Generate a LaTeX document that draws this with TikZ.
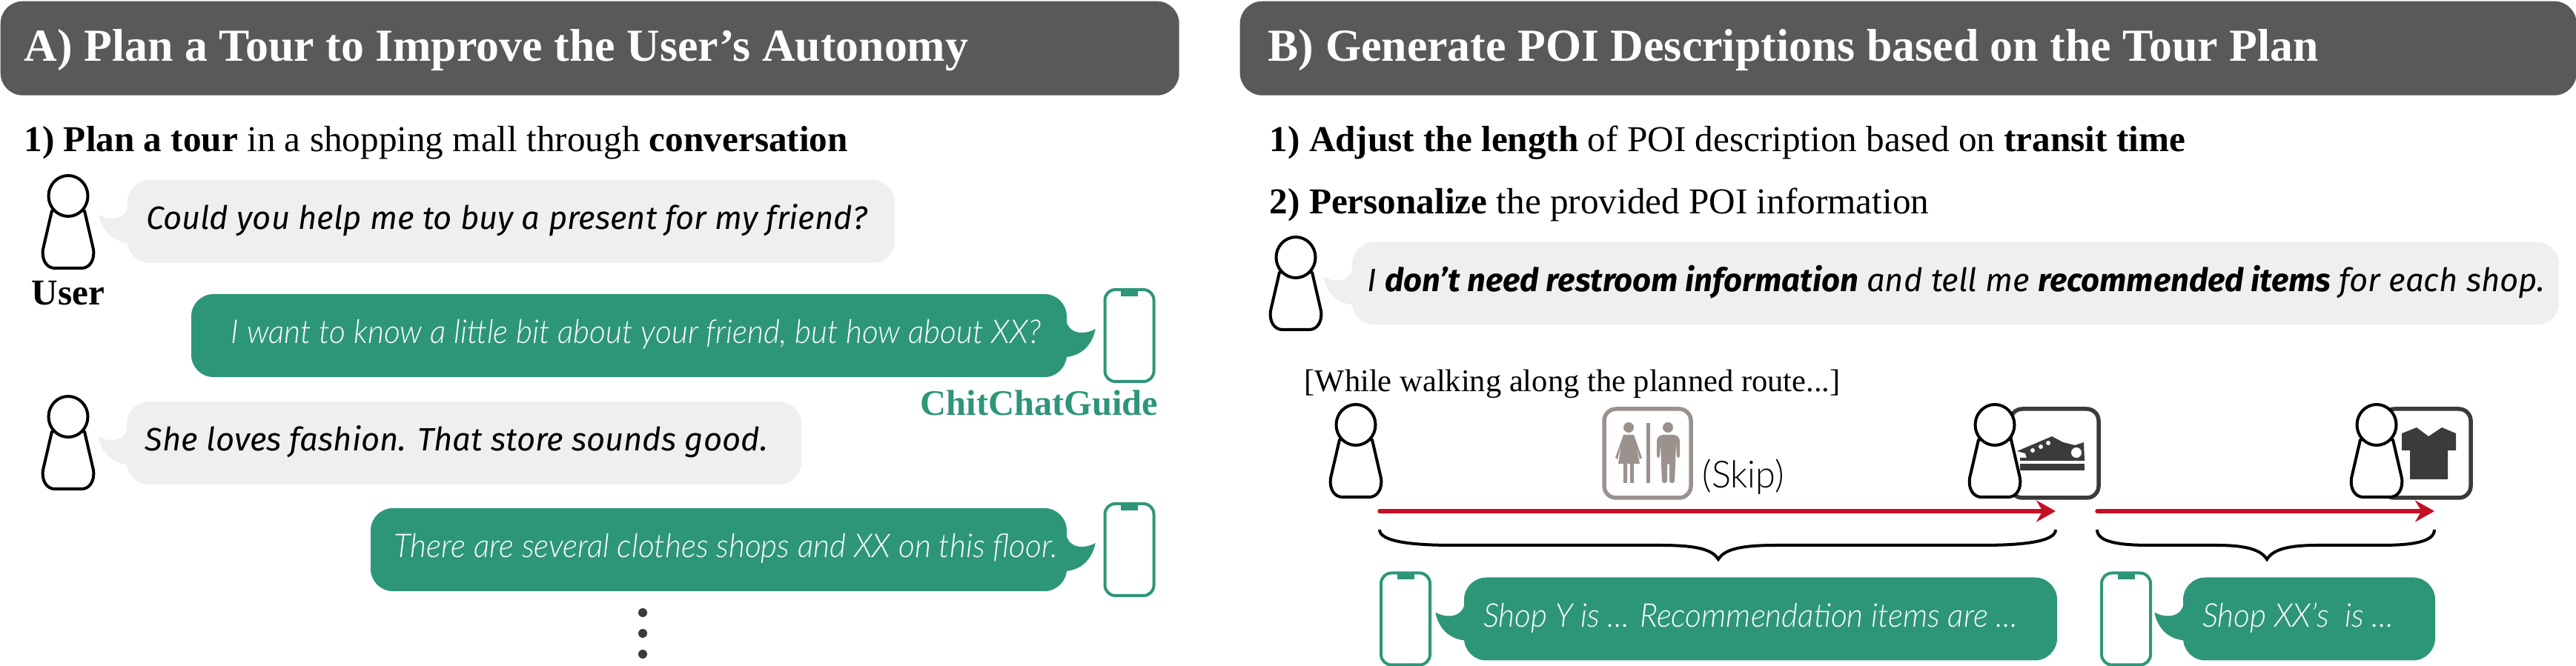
\documentclass[tikz,border=0pt]{standalone}
\usepackage{fontspec}
\setmainfont{Liberation Serif}
\newfontfamily\userfont{Fira Sans}
\newfontfamily\guidefont[FakeStretch=0.96,ItalicFont={Lato Light Italic}]{Lato Light}
\usetikzlibrary{arrows.meta}

\definecolor{headgray}{HTML}{5A5858}
\definecolor{guidegreen}{HTML}{2E9678}
\definecolor{askgray}{HTML}{EFEFEF}
\definecolor{routered}{HTML}{C50F24}
\definecolor{skipgray}{HTML}{9B928E}
\definecolor{shopdark}{HTML}{3C3B3A}

\newcommand{\lefttext}[2]{\makebox[#1][l]{#2}}
\newcommand{\righttext}[2]{\makebox[#1][r]{#2}}

\tikzset{
  headbox/.style={fill=headgray, text=white, rounded corners=0.3cm, anchor=north west, minimum height=1.27cm,
    inner xsep=0.32cm, text height=0.65cm, text depth=0.3cm, font=\fontsize{17.6}{20}\selectfont\bfseries},
  line/.style={anchor=base west, inner sep=0pt, font=\fontsize{14}{16}\selectfont},
  askbubble/.style={fill=askgray, rounded corners=0.3cm, minimum height=1.12cm, inner ysep=0pt, inner xsep=0.25cm,
    text height=0.44cm, text depth=0.22cm, font=\userfont\fontsize{12.4}{15}\selectfont\itshape},
  tellbubble/.style={fill=guidegreen, text=white, rounded corners=0.3cm, minimum height=1.12cm, inner ysep=0pt,
    text height=0.44cm, text depth=0.22cm, font=\guidefont\fontsize{12.6}{15}\selectfont\itshape},
  route/.style={routered, line width=0.055cm, line cap=round, -{Stealth[length=0.26cm,width=0.29cm]}},
  brace/.style={line width=0.04cm},
  shopbox/.style={line width=0.055cm, rounded corners=0.16cm},
  user/.pic={
    \draw[line width=0.04cm, fill=white, line join=round] (-0.22,0.2) -- (-0.34,0.72)
      .. controls (-0.36,0.88) and (-0.28,0.975) .. (-0.18,0.975) -- (0.18,0.975)
      .. controls (0.28,0.975) and (0.36,0.88) .. (0.34,0.72) -- (0.22,0.2) -- cycle;
    \draw[line width=0.04cm, fill=white] (0,0) ellipse (0.265 and 0.275);
  },
  phone/.pic={
    \draw[guidegreen, line width=0.04cm, rounded corners=0.14cm] (-0.33,-0.62) rectangle (0.33,0.62);
    \fill[guidegreen] (-0.115,-0.62) rectangle (0.115,-0.53);
  },
  lefttail/.pic={
    \fill[pic actions] (0.02,-0.24) .. controls (0.0,-0.02) and (-0.22,0.0) .. (-0.38,-0.09)
      .. controls (-0.34,0.12) and (-0.2,0.27) .. (0.02,0.29) -- cycle;
  }
}

\begin{document}
\begin{tikzpicture}[y=-1cm]
\useasboundingbox (0,0) rectangle (34.75,8.99);

%% headers
\node[headbox] (headA) at (0,0.01) {\lefttext{15.26cm}{A) Plan a Tour to Improve the User's Autonomy}};
\node[headbox, inner xsep=0.38cm, xshift=0.08cm] (headB) at (16.64,0.01) {\lefttext{17.27cm}{B) Generate POI Descriptions based on the Tour Plan}};

%% left side
\node[line] (planline) at (0.32,2.05) {\textbf{1) Plan a tour} in a shopping mall through \textbf{conversation}};
\pic at (0.92,2.645) {user};
\node[anchor=base, inner sep=0pt, font=\fontsize{14}{16}\selectfont\bfseries] (userlabel) at (0.92,4.12) {User};
\node[askbubble] (ask1) at (6.895,2.99) {\lefttext{9.85cm}{Could you help me to buy a present for my friend?}};
\pic[askgray] at (ask1.west) {lefttail};

\node[tellbubble, inner xsep=0.35cm] (tell1) at (8.485,4.53) {\righttext{11.11cm}{I want to know a little bit about your friend, but how about XX?}};
\pic[guidegreen, xscale=-1] at (tell1.east) {lefttail};
\pic at (15.235,4.53) {phone};
\node[anchor=base east, inner sep=0pt, text=guidegreen, font=\fontsize{13.8}{16}\selectfont\bfseries] (guidelabel) at (15.63,5.61) {ChitChatGuide};

\pic at (0.92,5.625) {user};
\node[askbubble] (ask2) at (6.26,5.98) {\lefttext{8.60cm}{She loves fashion. That store sounds good.}};
\pic[askgray] at (ask2.west) {lefttail};

\node[tellbubble, inner xsep=0.12cm] (tell2) at (9.695,7.42) {\righttext{9.15cm}{There are several clothes shops and XX on this floor.}};
\pic[guidegreen, xscale=-1] at (tell2.east) {lefttail};
\pic at (15.235,7.42) {phone};

\foreach \doty in {8.27,8.55,8.83}
  \fill[shopdark] (8.67,\doty) circle (0.06);

%% right side
\node[line] (adjustline) at (17.12,2.05) {\textbf{1) Adjust the length} of POI description based on \textbf{transit time}};
\node[line] (personline) at (17.12,2.89) {\textbf{2) Personalize} the provided POI information};
\pic at (17.48,3.475) {user};
\node[askbubble, inner xsep=0.2cm] (ask3) at (26.38,3.825) {\lefttext{15.88cm}{I \textbf{don’t need restroom information} and tell me \textbf{recommended items} for each shop.}};
\pic[askgray] at (ask3.west) {lefttail};

\node[line, font=\fontsize{12.1}{15}\selectfont] (whileline) at (17.59,5.29) {[While walking along the planned route...]};

%% restroom sign
\draw[skipgray, shopbox] (21.64,5.52) rectangle (22.81,6.72);
\fill[skipgray] (22.23,5.71) ++(-0.025,0) rectangle ++(0.05,0.81);
\fill[skipgray] (21.97,5.77) circle (0.07) (22.50,5.77) circle (0.07);
\fill[skipgray] (21.90,5.87) -- (22.04,5.87) -- (22.15,6.18) -- (22.12,6.20) -- (22.07,6.00) -- (22.12,6.26)
  -- (21.83,6.26) -- (21.87,6.00) -- (21.82,6.20) -- (21.79,6.18) -- cycle;
\fill[skipgray] (21.90,6.26) rectangle (21.95,6.52) (21.99,6.26) rectangle (22.04,6.52);
\fill[skipgray, rounded corners=0.03cm] (22.35,5.92) -- (22.40,5.87) -- (22.61,5.87) -- (22.66,5.92) -- (22.66,6.18)
  -- (22.62,6.18) -- (22.61,5.98) -- (22.59,6.52) -- (22.52,6.52) -- (22.52,6.25) -- (22.49,6.25) -- (22.49,6.52)
  -- (22.42,6.52) -- (22.40,5.98) -- (22.39,6.18) -- (22.35,6.18) -- cycle;
\node[anchor=base west, inner sep=0pt, font=\guidefont\fontsize{14.4}{15}\selectfont] (skiplabel) at (22.96,6.59) {(Skip)};

%% shoe shop
\draw[shopdark, shopbox] (27.12,5.52) rectangle (28.31,6.72);
\fill[shopdark] (27.21,6.09) -- (27.68,5.89) -- (27.83,5.97) -- (27.99,6.01) -- (28.11,5.97) -- (28.12,6.22)
  -- (27.25,6.22) -- (27.25,6.18) -- (27.34,6.18) -- (27.32,6.12) -- cycle;
\fill[shopdark] (27.25,6.26) rectangle (28.12,6.35);
\fill[white] (28.01,6.11) circle (0.07) (27.42,6.08) circle (0.03) (27.53,6.03) circle (0.03) (27.63,5.98) circle (0.03);

%% shirt shop
\draw[shopdark, shopbox] (32.14,5.52) rectangle (33.33,6.72);
\fill[shopdark] (32.40,5.85) -- (32.60,5.77) -- (32.76,5.89) -- (32.94,5.77) -- (33.13,5.85) -- (33.13,6.08)
  -- (33.02,6.08) -- (33.02,6.47) -- (32.51,6.47) -- (32.51,6.08) -- (32.40,6.08) -- cycle;

%% walking users
\foreach \userx in {18.29,26.91,32.06}
  \pic at (\userx,5.735) {user};

%% route
\coordinate (walkA) at (18.61,6.90);
\coordinate (shopY) at (27.73,6.90);
\coordinate (walkB) at (28.29,6.90);
\coordinate (shopXX) at (32.84,6.90);
\draw[route] (walkA) -- (shopY);
\draw[route] (walkB) -- (shopXX);

%% braces
\coordinate (tipY) at (23.18,7.55);
\coordinate (tipXX) at (30.58,7.55);
\draw[brace] (18.61,7.15) .. controls (18.61,7.32) and (19.1,7.36) .. (19.6,7.36) -- (22.4,7.36)
  .. controls (22.9,7.36) and (23.1,7.42) .. (tipY) .. controls (23.26,7.42) and (23.46,7.36) .. (23.96,7.36)
  -- (26.74,7.36) .. controls (27.24,7.36) and (27.73,7.32) .. (27.73,7.15);
\draw[brace] (28.29,7.15) .. controls (28.29,7.32) and (28.6,7.36) .. (29.0,7.36) -- (29.9,7.36)
  .. controls (30.3,7.36) and (30.5,7.42) .. (tipXX) .. controls (30.66,7.42) and (30.86,7.36) .. (31.26,7.36)
  -- (32.12,7.36) .. controls (32.52,7.36) and (32.84,7.32) .. (32.84,7.15);

%% descriptions
\pic at (18.96,8.355) {phone};
\node[tellbubble, inner xsep=0.26cm] (desc1) at (23.75,8.355) {\lefttext{7.48cm}{Shop Y is ... Recommendation items are ...}};
\pic[guidegreen] at (desc1.west) {lefttail};
\pic at (28.68,8.355) {phone};
\node[tellbubble, inner xsep=0.26cm] (desc2) at (31.15,8.355) {\lefttext{2.88cm}{Shop XX’s\ \ is ...}};
\pic[guidegreen] at (desc2.west) {lefttail};

\end{tikzpicture}
\end{document}
